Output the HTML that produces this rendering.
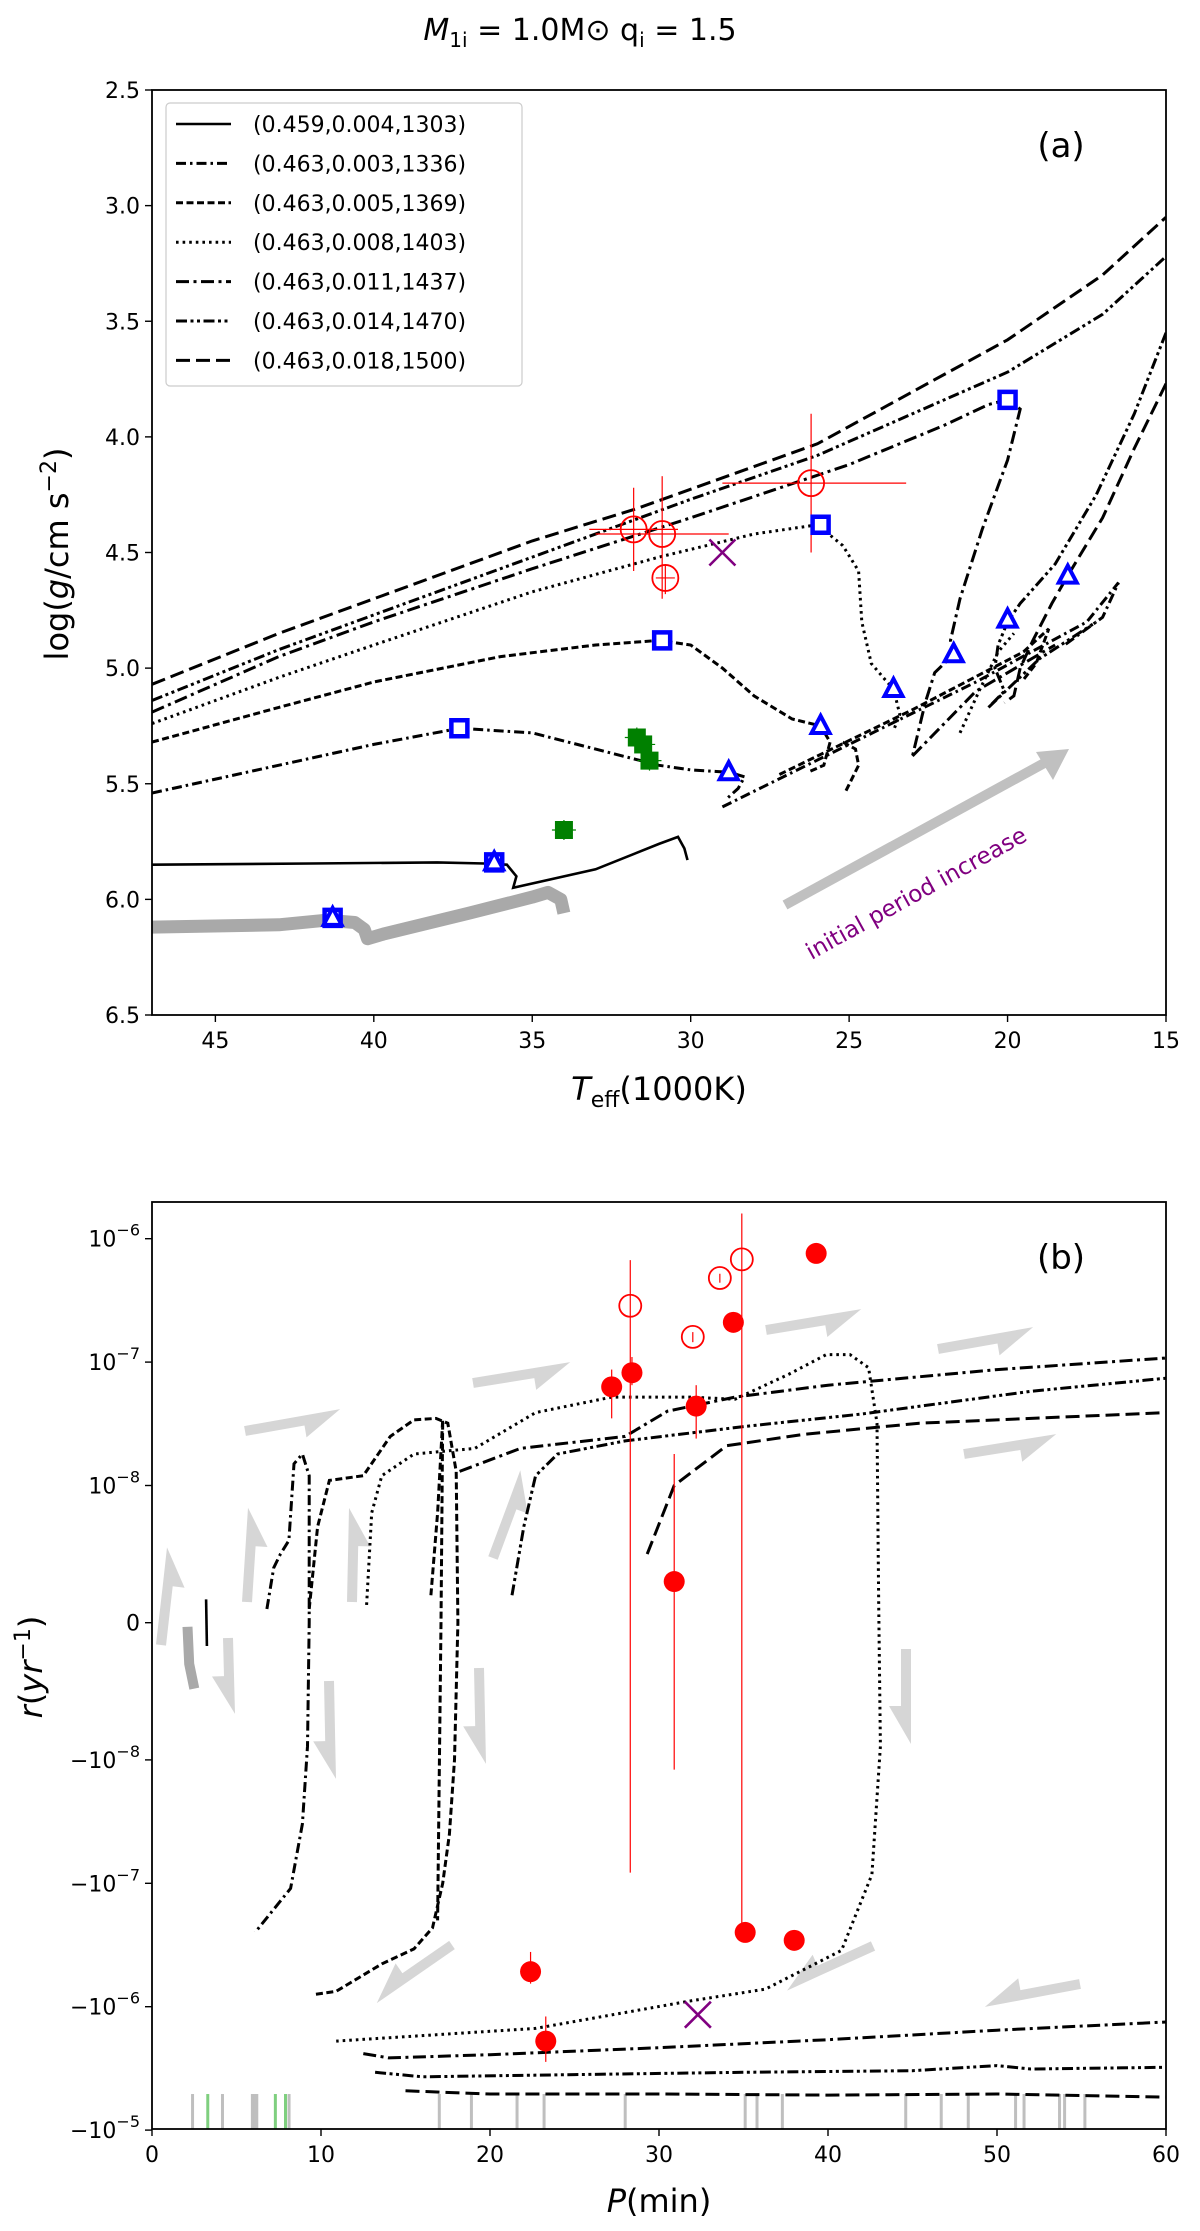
<!DOCTYPE html>
<html><head><meta charset="utf-8"><style>
html,body{margin:0;padding:0;background:#fff;}
svg{display:block;font-family:"DejaVu Sans","Liberation Sans",sans-serif;}
</style></head><body>
<svg id="fig" width="1200" height="2231" viewBox="0 0 1200 2231" xmlns="http://www.w3.org/2000/svg">
<text x="580" y="40" font-size="30" text-anchor="middle"><tspan font-style="italic">M</tspan><tspan font-size="20" dy="7">1i</tspan><tspan dy="-7"> = 1.0M</tspan><tspan>⊙</tspan><tspan> q</tspan><tspan font-size="20" dy="7">i</tspan><tspan dy="-7"> = 1.5</tspan></text>
<g id="pa"></g>
<g id="pb"></g>
</svg>
<script>
// ---------------- Panel A data ----------------
const aXTicks = [45,40,35,30,25,20,15];
const aYTicks = [2.5,3.0,3.5,4.0,4.5,5.0,5.5,6.0,6.5];
const legendLabels = ["(0.459,0.004,1303)","(0.463,0.003,1336)","(0.463,0.005,1369)","(0.463,0.008,1403)","(0.463,0.011,1437)","(0.463,0.014,1470)","(0.463,0.018,1500)"];
const a1303 = [[47,5.85],[42,5.845],[38,5.84],[36.5,5.845],[35.8,5.85],[35.5,5.9],[35.6,5.95],[33,5.87],[31,5.76],[30.4,5.73],[30.2,5.78],[30.1,5.83]];
const aGrey = [[47,6.12],[43,6.11],[41.5,6.09],[40.6,6.1],[40.3,6.13],[40.2,6.17],[39.7,6.15],[37,6.06],[35,5.99],[34.5,5.97],[34.1,6.0],[34,6.06]];
const a1336 = [[47,5.54],[44,5.45],[40,5.33],[37.3,5.26],[35,5.28],[33,5.35],[31,5.42],[30,5.44],[28.8,5.45],[28.3,5.47],[28.5,5.52],[28.9,5.57],null,[29,5.6],[25,5.33],[21,5.06],[17.5,4.8],[16.5,4.63],[17,4.78],[18.2,4.9]];
const a1369 = [[47,5.32],[43,5.17],[40,5.06],[36,4.95],[33,4.9],[31,4.88],[30,4.9],[29,5.0],[28,5.12],[26.8,5.22],[25.9,5.25],[25.6,5.32],[25.8,5.42],[26.3,5.45],null,[27.2,5.46],[23,5.18],[19.5,4.93],[18.7,4.83],[19.1,4.98],[19.5,5.05],null,[25.1,5.53],[24.7,5.42],[24.8,5.35],[25.2,5.32]];
const a1403 = [[47,5.24],[43,5.04],[40,4.9],[35,4.67],[31,4.52],[28,4.42],[26,4.38],[25.2,4.47],[24.7,4.58],[24.6,4.8],[24.3,4.98],[23.8,5.06],[23.6,5.09],[23.4,5.2],[23.6,5.27],null,[21.5,5.28],[20.9,5.1],[20.3,4.93],[19.8,4.85]];
const a1437 = [[47,5.19],[43,4.95],[40,4.8],[35,4.57],[30,4.35],[25,4.12],[22,3.95],[20.6,3.86],[20,3.84],[19.6,3.88],[20,4.1],[20.8,4.4],[21.5,4.7],[21.8,4.88],[21.7,4.94],[22.3,5.02],[22.6,5.15],[23,5.38],null,[23,5.38],[21,5.1],[18.5,4.9]];
const a1470 = [[47,5.14],[43,4.92],[40,4.77],[35,4.52],[30,4.27],[26,4.08],[20,3.72],[17,3.47],[15,3.22],null,[15,3.55],[16,3.9],[17.2,4.25],[18.5,4.55],[19.6,4.72],[20,4.8],[20.3,4.9],[20.4,5.0],[20.1,5.1],[20.6,5.17],null,[20.6,5.17],[19,4.96],[17.2,4.8]];
const a1500 = [[47,5.07],[43,4.85],[40,4.7],[35,4.45],[31.7,4.31],[26,4.03],[20,3.58],[17,3.3],[15,3.05],null,[15,3.77],[16,4.05],[17,4.35],[18.1,4.6],[18.6,4.72],[19.2,4.88],[19.6,5.0],[19.8,5.12],[20.1,5.15]];
const aRedT = [31.8,30.9,30.8,26.2];
const aRedG = [4.4,4.42,4.61,4.2];
const aRedTlo = [33.2,33.0,31.1,29.0];
const aRedThi = [30.4,28.8,30.5,23.2];
const aRedGlo = [4.22,4.17,4.55,3.9];
const aRedGhi = [4.58,4.7,4.68,4.5];
const aGreenT = [31.7,31.5,31.3,34.0];
const aGreenG = [5.3,5.33,5.4,5.7];
const aSqT = [41.3,36.2,37.3,30.9,25.9,20.0];
const aSqG = [6.08,5.84,5.26,4.88,4.38,3.84];
const aTriT = [41.3,36.2,28.8,25.9,23.6,21.7,20.0,18.1];
const aTriG = [6.08,5.84,5.45,5.25,5.09,4.94,4.79,4.6];
const aCross = [29.0,4.5];

// ---------------- Panel B data ----------------
const bXTicks = [0,10,20,30,40,50,60];
const b1336 = [[6.8,1e-9],[7.2,4e-9],[7.6,5e-9],[8.1,6e-9],[8.4,1.5e-8],[8.9,1.8e-8],[9.3,1.2e-8],[9.3,0],[9.2,-9e-9],[8.9,-3.3e-8],[8.2,-1.1e-7],[6.1,-2.5e-7]];
const b1369 = [[9.3,1e-9],[9.8,7e-9],[10.5,1.1e-8],[12.5,1.2e-8],[14.1,2.5e-8],[15.5,3.4e-8],[16.8,3.5e-8],[17.5,3.2e-8],[18.0,1.3e-8],[18.1,0],[17.9,-1e-8],[17.6,-4e-8],[17.2,-1e-7],[16.6,-2.3e-7],[15.5,-3.4e-7],[13.6,-4.5e-7],[10.9,-7.5e-7],[9.5,-8e-7],null,[16.5,2e-9],[16.9,8e-9],[17.2,3.4e-8],[17.1,0],[16.9,-2e-7]];
const b1403 = [[12.7,1.3e-9],[13.0,8e-9],[13.6,1.2e-8],[15.5,1.8e-8],[19.1,2e-8],[22.7,3.9e-8],[27.2,5.2e-8],[31.8,5.2e-8],[34.5,5e-8],[37.7,8e-8],[39.9,1.15e-7],[41.3,1.15e-7],[42.4,9e-8],[42.9,3.2e-8],[43.0,1.3e-9],[43.1,-9e-9],[42.6,-8.5e-8],[40.8,-3.5e-7],[36.3,-7.2e-7],[31.8,-9e-7],[22.7,-1.5e-6],[10.9,-1.9e-6]];
const b1437 = [[18.2,1.3e-8],[21.8,2e-8],[28,2.5e-8],[30.5,4e-8],[34.5,5.2e-8],[40,6.5e-8],[50,8.7e-8],[60,1.08e-7],null,[12.5,-2.4e-6],[14,-2.6e-6],[20,-2.45e-6],[30,-2.15e-6],[40,-1.85e-6],[50,-1.55e-6],[60,-1.33e-6]];
const b1470 = [[21.3,2e-9],[22.0,7e-9],[22.7,1.2e-8],[24,1.8e-8],[28,2.3e-8],[35,3e-8],[42,3.8e-8],[52,5.8e-8],[60,7.4e-8],null,[13.2,-3.4e-6],[16,-3.7e-6],[25,-3.55e-6],[35,-3.4e-6],[45,-3.3e-6],[50,-3.0e-6],[52,-3.2e-6],[60,-3.1e-6]];
const b1500 = [[29.3,5e-9],[30.9,1e-8],[34,2.1e-8],[38.6,2.6e-8],[45.4,3.2e-8],[60,3.9e-8],null,[15,-4.8e-6],[20,-5.1e-6],[30,-5.1e-6],[40,-5.2e-6],[50,-5.1e-6],[60,-5.4e-6]];
const bSolid = [[3.2,1.7e-9],[3.25,-1.7e-9]];
const bGrey = [[2.1,-3e-10],[2.2,-3e-9],[2.5,-4.8e-9]];
const bFillP = [27.2,28.4,32.2,34.4,39.3,30.9,35.1,38.0,22.4,23.3];
const bFillR = [6.3e-8,8.2e-8,4.4e-8,2.1e-7,7.6e-7,3e-9,-2.5e-7,-2.9e-7,-5.2e-7,-1.9e-6];
const bFillLo = [3.5e-8,6.5e-8,2.4e-8,2.1e-7,7.6e-7,-1.2e-8,-2.5e-7,-2.9e-7,-6.5e-7,-2.8e-6];
const bFillHi = [8.7e-8,1.1e-7,6.5e-8,2.1e-7,7.6e-7,1.8e-8,-2.5e-7,-2.9e-7,-3.6e-7,-1.2e-6];
const bOpenP = [28.3,32.0,33.6,34.9];
const bOpenR = [2.86e-7,1.6e-7,4.8e-7,6.8e-7];
const bOpenLo = [-8.2e-8,1.45e-7,4.4e-7,-2.3e-7];
const bOpenHi = [6.7e-7,1.75e-7,5.2e-7,1.6e-6];
const bCross = [32.3,-1.16e-6];
const rugGrey = [2.4,4.17,5.94,6.07,6.2,8.11,17.0,18.9,21.6,23.2,28.0,35.1,35.8,37.3,44.6,46.7,48.3,51.1,51.6,53.7,54.0,55.2];
const rugGreen = [3.3,7.3,7.9];

const NS="http://www.w3.org/2000/svg";
function el(tag,attrs,parent){const e=document.createElementNS(NS,tag);for(const k in attrs)e.setAttribute(k,attrs[k]);parent.appendChild(e);return e;}

const AX={l:152,r:1166,t:90,b:1015};
const ax=T=>AX.l+(47-T)/32*(AX.r-AX.l);
const ay=g=>AX.t+(g-2.5)/4*(AX.b-AX.t);
const BX={l:152,r:1166,t:1202,b:2129};
const bx=P=>BX.l+P/60*(BX.r-BX.l);
const Y0=1622.7, LIN=137.2, DEC=123.4;
function by(r){const a=Math.abs(r);let d;if(a<=1e-8)d=a/1e-8*LIN;else d=LIN+(Math.log10(a)+8)*DEC;return Y0-(r<0?-d:d);}

const styles={
 s1303:{dash:"",w:2.6},
 s1336:{dash:"10,4,2.5,4",w:3},
 s1369:{dash:"7,3.5",w:3},
 s1403:{dash:"2.6,4",w:3},
 s1437:{dash:"13,4.5,3,4.5",w:3},
 s1470:{dash:"11,3.5,3,3.5,3,3.5",w:3},
 s1500:{dash:"14,6",w:3}
};
function pathFrom(pts,fx,fy){let d="",pen=false;for(const p of pts){if(!p){pen=false;continue;}d+=(pen?"L":"M")+fx(p[0]).toFixed(1)+","+fy(p[1]).toFixed(1);pen=true;}return d;}

const pa=document.getElementById('pa');
const pb=document.getElementById('pb');
const defs=el('defs',{},pa);
const cpa=el('clipPath',{id:'cpa'},defs);el('rect',{x:AX.l,y:AX.t,width:AX.r-AX.l,height:AX.b-AX.t},cpa);
const cpb=el('clipPath',{id:'cpb'},defs);el('rect',{x:BX.l,y:BX.t,width:BX.r-BX.l,height:BX.b-BX.t},cpb);

// ====== Panel A ======
const ga=el('g',{'clip-path':'url(#cpa)'},pa);


const arr=el('g',{},ga);


el('line',{x1:785,y1:905,x2:1048,y2:761,stroke:'#c0c0c0','stroke-width':10},arr);
el('polygon',{points:'1069,749 1036,752 1053,780',fill:'#c0c0c0'},arr);
const gl=el('path',{d:pathFrom(aGrey,ax,ay),fill:'none',stroke:'#a9a9a9','stroke-width':13,'stroke-linecap':'butt','stroke-linejoin':'round'},ga);


const aSeries=[['s1303',a1303],['s1336',a1336],['s1369',a1369],['s1403',a1403],['s1437',a1437],['s1470',a1470],['s1500',a1500]];
aSeries.forEach(([k,pts])=>{const p=el('path',{d:pathFrom(pts,ax,ay),fill:'none',stroke:'#000','stroke-width':styles[k].w,'stroke-dasharray':styles[k].dash},ga);

});
aRedT.forEach((t,i)=>{const g=el('g',{},ga);


el('line',{x1:ax(aRedTlo[i]),x2:ax(aRedThi[i]),y1:ay(aRedG[i]),y2:ay(aRedG[i]),stroke:'#ff0000','stroke-width':1.2},g);
el('line',{x1:ax(t),x2:ax(t),y1:ay(aRedGlo[i]),y2:ay(aRedGhi[i]),stroke:'#ff0000','stroke-width':1.2},g);
el('circle',{cx:ax(t),cy:ay(aRedG[i]),r:13,fill:'none',stroke:'#ff0000','stroke-width':1.8},g);});
{const cx=ax(aCross[0]),cy=ay(aCross[1]);const g=el('g',{stroke:'#800080','stroke-width':2.6},ga);


el('line',{x1:cx-13,y1:cy-13,x2:cx+13,y2:cy+13},g);el('line',{x1:cx-13,y1:cy+13,x2:cx+13,y2:cy-13},g);}
aGreenT.forEach((t,i)=>{const g=el('g',{},ga);


const x=ax(t),y=ay(aGreenG[i]);
el('line',{x1:x-12,x2:x+12,y1:y,y2:y,stroke:'#008000','stroke-width':1.2},g);
el('line',{x1:x,x2:x,y1:y-10,y2:y+10,stroke:'#008000','stroke-width':1.2},g);
el('rect',{x:x-9,y:y-9,width:18,height:18,fill:'#008000'},g);});
aSqT.forEach((t,i)=>{const s=el('rect',{x:ax(t)-8,y:ay(aSqG[i])-8,width:16,height:16,fill:'#fff',stroke:'#0000ff','stroke-width':4.5},ga);

});
aTriT.forEach((t,i)=>{const x=ax(t),y=ay(aTriG[i]);const s=el('polygon',{points:`${x},${y-10} ${x-9},${y+7} ${x+9},${y+7}`,fill:'#fff',stroke:'#0000ff','stroke-width':4},ga);

});
const ptxt=el('text',{x:920,y:900,'font-size':23,fill:'#800080','text-anchor':'middle',transform:'rotate(-29 920 900)'},ga);
ptxt.textContent='initial period increase';



el('rect',{x:AX.l,y:AX.t,width:AX.r-AX.l,height:AX.b-AX.t,fill:'none',stroke:'#000','stroke-width':1.8},pa);
aXTicks.forEach(t=>{const x=ax(t);el('line',{x1:x,x2:x,y1:AX.b,y2:AX.b+7,stroke:'#000','stroke-width':1.4},pa);
const tx=el('text',{x:x,y:AX.b+33,'font-size':22,'text-anchor':'middle'},pa);tx.textContent=t;

});
aYTicks.forEach(t=>{const y=ay(t);el('line',{x1:AX.l-7,x2:AX.l,y1:y,y2:y,stroke:'#000','stroke-width':1.4},pa);
const tx=el('text',{x:AX.l-12,y:y+8,'font-size':22,'text-anchor':'end'},pa);tx.textContent=t.toFixed(1);

});
{const t=el('text',{x:659,y:1100,'font-size':32,'text-anchor':'middle'},pa);


t.innerHTML='<tspan font-style="italic">T</tspan><tspan font-size="22" dy="7">eff</tspan><tspan dy="-7">(1000K)</tspan>';}
{const t=el('text',{x:68,y:554,'font-size':32,'text-anchor':'middle',transform:'rotate(-90 68 554)'},pa);


t.innerHTML='log(<tspan font-style="italic">g</tspan>/cm s<tspan font-size="22" dy="-12">−2</tspan><tspan dy="12">)</tspan>';}
{const t=el('text',{x:1061,y:157,'font-size':34,'text-anchor':'middle'},pa);t.textContent='(a)';

}
{const lg=el('g',{},pa);


el('rect',{x:166,y:103,width:356,height:283,rx:4,fill:'#fff',stroke:'#ccc','stroke-width':1.2},lg);
legendLabels.forEach((lab,i)=>{const k=aSeries[i][0];const y=124+i*39.4;
const e=el('g',{},lg);


el('line',{x1:176,x2:231,y1:y,y2:y,stroke:'#000','stroke-width':styles[k].w,'stroke-dasharray':styles[k].dash},e);
const t=el('text',{x:253,y:y+8,'font-size':22},e);t.textContent=lab;});}

// ====== Panel B ======
const gb=el('g',{'clip-path':'url(#cpb)'},pb);


const harpoons=[[245,1431,341,1414],[473,1383,571,1367],[766,1330,862,1314],[938,1349,1034,1332],[964,1454,1057,1439],[161,1645,172,1548],[247,1602,253,1508],[352,1602,354,1508],[493,1558,525,1472],[228,1638,230,1714],[329,1681,331,1779],[479,1668,481,1764],[906,1649,906,1744],[452,1945,374,1999],[873,1946,785,1986],[1080,1984,984,2002]];
harpoons.forEach(h=>{const [x1,y1,x2,y2]=h;const dx=x2-x1,dy=y2-y1,L=Math.hypot(dx,dy),ux=dx/L,uy=dy/L,nx=-uy,ny=ux,w=5,hl=38,hw=12;
const bx0=x2-ux*hl,by0=y2-uy*hl;
const pts=[[x1+nx*w,y1+ny*w],[x1-nx*w,y1-ny*w],[bx0-nx*w,by0-ny*w],[x2-nx*w,y2-ny*w],[bx0+nx*(w+hw),by0+ny*(w+hw)],[bx0+nx*w,by0+ny*w]];
const p=el('polygon',{points:pts.map(q=>q[0].toFixed(1)+','+q[1].toFixed(1)).join(' '),fill:'#d6d6d6'},gb);

});
rugGrey.forEach(P=>{const l=el('line',{x1:bx(P),x2:bx(P),y1:by(-5.1e-6),y2:BX.b,stroke:'#bfbfbf','stroke-width':3},gb);

});
rugGreen.forEach(P=>{const l=el('line',{x1:bx(P),x2:bx(P),y1:by(-5.1e-6),y2:BX.b,stroke:'#7fcf7f','stroke-width':3},gb);

});
{const p=el('path',{d:pathFrom(bGrey,bx,by),fill:'none',stroke:'#a9a9a9','stroke-width':10},gb);

}
{const p=el('path',{d:pathFrom(bSolid,bx,by),fill:'none',stroke:'#000','stroke-width':2.6},gb);

}
[['s1336',b1336],['s1369',b1369],['s1403',b1403],['s1437',b1437],['s1470',b1470],['s1500',b1500]].forEach(([k,pts])=>{
const p=el('path',{d:pathFrom(pts,bx,by),fill:'none',stroke:'#000','stroke-width':styles[k].w,'stroke-dasharray':styles[k].dash},gb);

});
bFillP.forEach((P,i)=>{const g=el('g',{},gb);


el('line',{x1:bx(P),x2:bx(P),y1:by(bFillLo[i]),y2:by(bFillHi[i]),stroke:'#ff0000','stroke-width':1.2},g);
el('circle',{cx:bx(P),cy:by(bFillR[i]),r:10.5,fill:'#ff0000'},g);});
bOpenP.forEach((P,i)=>{const g=el('g',{},gb);


el('line',{x1:bx(P),x2:bx(P),y1:by(bOpenLo[i]),y2:by(bOpenHi[i]),stroke:'#ff0000','stroke-width':1.2},g);
el('circle',{cx:bx(P),cy:by(bOpenR[i]),r:11,fill:'none',stroke:'#ff0000','stroke-width':1.8},g);});
{const cx=bx(bCross[0]),cy=by(bCross[1]);const g=el('g',{stroke:'#800080','stroke-width':2.6},gb);


el('line',{x1:cx-13,y1:cy-13,x2:cx+13,y2:cy+13},g);el('line',{x1:cx-13,y1:cy+13,x2:cx+13,y2:cy-13},g);}

el('rect',{x:BX.l,y:BX.t,width:BX.r-BX.l,height:BX.b-BX.t,fill:'none',stroke:'#000','stroke-width':1.8},pb);
bXTicks.forEach(t=>{const x=bx(t);el('line',{x1:x,x2:x,y1:BX.b,y2:BX.b+7,stroke:'#000','stroke-width':1.4},pb);
const tx=el('text',{x:x,y:BX.b+33,'font-size':22,'text-anchor':'middle'},pb);tx.textContent=t;

});
const bYTickVals=[1e-6,1e-7,1e-8,0,-1e-8,-1e-7,-1e-6,-1e-5];
const bYTickExp=["−6","−7","−8","","−8","−7","−6","−5"];
bYTickVals.forEach((v,i)=>{const y=by(v);el('line',{x1:BX.l-7,x2:BX.l,y1:y,y2:y,stroke:'#000','stroke-width':1.4},pb);
const tx=el('text',{x:BX.l-12,y:y+8,'font-size':22,'text-anchor':'end'},pb);


if(v===0)tx.textContent='0';else tx.innerHTML=(v<0?'−':'')+'10<tspan font-size="16" dy="-11">'+bYTickExp[i]+'</tspan>';});
{const t=el('text',{x:659,y:2212,'font-size':32,'text-anchor':'middle'},pb);


t.innerHTML='<tspan font-style="italic">P</tspan>(min)';}
{const t=el('text',{x:42,y:1667,'font-size':32,'text-anchor':'middle',transform:'rotate(-90 42 1667)'},pb);


t.innerHTML='<tspan font-style="italic">r</tspan>(<tspan font-style="italic">yr</tspan><tspan font-size="22" dy="-12">−1</tspan><tspan dy="12">)</tspan>';}
{const t=el('text',{x:1061,y:1269,'font-size':34,'text-anchor':'middle'},pb);t.textContent='(b)';

}
</script>
</body></html>
